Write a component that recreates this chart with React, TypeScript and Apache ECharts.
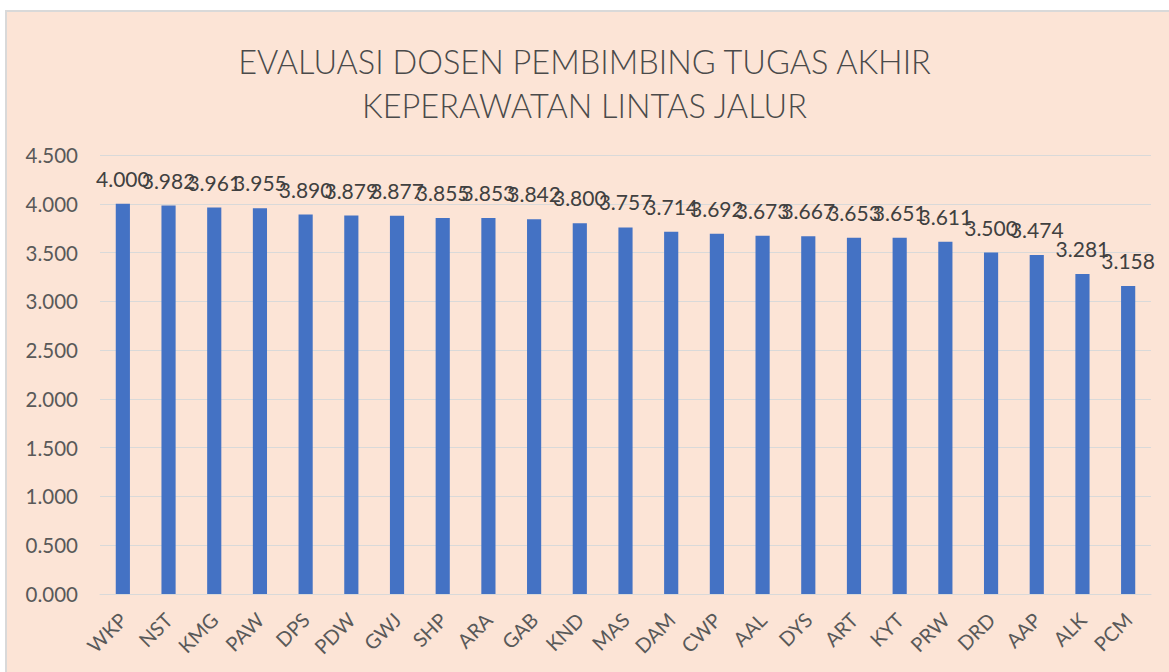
import React, { useEffect, useRef } from "react";
import * as echarts from "echarts";

const categories = ["WKP", "NST", "KMG", "PAW", "DPS", "PDW", "GWJ", "SHP", "ARA", "GAB", "KND", "MAS", "DAM", "CWP", "AAL", "DYS", "ART", "KYT", "PRW", "DRD", "AAP", "ALK", "PCM"];
const values = [4.0, 3.982, 3.961, 3.955, 3.89, 3.879, 3.877, 3.855, 3.853, 3.842, 3.8, 3.757, 3.714, 3.692, 3.673, 3.667, 3.653, 3.651, 3.611, 3.5, 3.474, 3.281, 3.158];
const titleLines = ["EVALUASI DOSEN PEMBIMBING TUGAS AKHIR", "KEPERAWATAN LINTAS JALUR"];

const FONT = "Lato, 'Open Sans', sans-serif";

export default function App() {
  const ref = useRef<HTMLDivElement>(null);
  useEffect(() => {
    if (!ref.current) return;
    const chart = echarts.init(ref.current, null, { renderer: "svg" });
    chart.setOption({
      animation: false,
      backgroundColor: "#ffffff",
      graphic: [
        {
          type: "rect",
          z: -10,
          shape: { x: 6, y: 11, width: 1170, height: 670 },
          style: { fill: "#FCE4D6", stroke: "#D9D9D9", lineWidth: 2 },
        },
      ],
      title: {
        text: titleLines.join("\n"),
        left: "center",
        top: 34,
        textStyle: {
          fontFamily: FONT,
          fontSize: 32.5,
          fontWeight: 300,
          color: "#4a4a4a",
          lineHeight: 44,
        },
      },
      grid: { left: 100, right: 18, top: 155, bottom: 78 },
      xAxis: {
        type: "category",
        data: categories,
        axisLine: { lineStyle: { color: "#D9D9D9", width: 1 } },
        axisTick: { show: false },
        axisLabel: {
          rotate: 45,
          fontFamily: FONT,
          fontSize: 20,
          color: "#595959",
          margin: 22,
          interval: 0,
        },
      },
      yAxis: {
        type: "value",
        min: 0,
        max: 4.5,
        interval: 0.5,
        axisLine: { show: false },
        axisTick: { show: false },
        splitLine: { lineStyle: { color: "#D9D9D9", width: 1 } },
        axisLabel: {
          fontFamily: FONT,
          fontSize: 20.5,
          color: "#595959",
          margin: 22,
          formatter: (v: number) => v.toFixed(3),
        },
      },
      series: [
        {
          type: "bar",
          data: values,
          barWidth: "31%",
          itemStyle: { color: "#4472C4" },
          label: {
            show: true,
            position: "top",
            distance: 15,
            fontFamily: FONT,
            fontSize: 21,
            color: "#404040",
            formatter: (p: any) => Number(p.value).toFixed(3),
          },
        },
      ],
    });
    return () => chart.dispose();
  }, []);
  return (
    <div
      ref={ref}
      style={{ position: "fixed", left: 0, top: 0, width: 1169, height: 672 }}
    />
  );
}
